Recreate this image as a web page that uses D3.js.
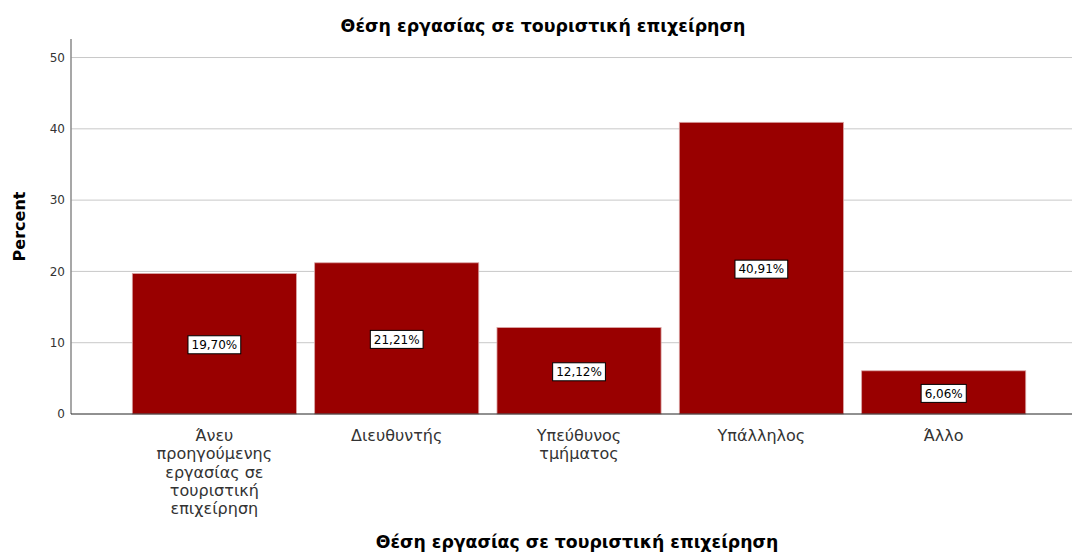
<!DOCTYPE html>
<html>
<head>
<meta charset="utf-8">
<script src="https://cdn.jsdelivr.net/npm/d3@7"></script>
<style>
  body { margin: 0; background: #fff; }
  svg { display: block; font-family: "DejaVu Sans", Verdana, sans-serif; }
</style>
</head>
<body>
<div id="chart"></div>
<script>
// data
const categories = [
    'Άνευ προηγούμενης εργασίας σε τουριστική επιχείρηση',
    'Διευθυντής',
    'Υπεύθυνος τμήματος',
    'Υπάλληλος',
    'Άλλο'
];
const percents = [19.70, 21.21, 12.12, 40.91, 6.06];
const yTicks = [0, 10, 20, 30, 40, 50];
const title = 'Θέση εργασίας σε τουριστική επιχείρηση';

const width = 1073, height = 552;
const margin = { left: 71, right: 1, top: 39, bottom: 138 };
const x0 = margin.left, x1 = width - margin.right;
const yBottom = height - margin.bottom; // 414

const svg = d3.select('#chart').append('svg')
    .attr('width', width)
    .attr('height', height);

// scales
const scaleX = d3.scaleBand(categories, [x0, x1])
    .paddingInner(0.1)
    .paddingOuter(0.295)
    .align(0.57);
const scaleY = d3.scaleLinear([0, 52.6], [yBottom, margin.top]);

// gridlines
svg.append('g')
    .selectAll('line')
    .data(yTicks.filter(d => d > 0))
    .join('line')
    .attr('x1', x0).attr('x2', x1)
    .attr('y1', d => scaleY(d)).attr('y2', d => scaleY(d))
    .attr('stroke', '#c8c8c8')
    .attr('stroke-width', 1);

// y axis
const axisY = svg.append('g')
    .attr('transform', `translate(${x0},0)`)
    .call(d3.axisLeft(scaleY).tickValues(yTicks).tickSize(0).tickPadding(6));
axisY.select('.domain').remove();
axisY.selectAll('text')
    .attr('font-size', 12)
    .attr('fill', '#333')
    .attr('font-family', '"DejaVu Sans", Verdana, sans-serif');
svg.append('line')
    .attr('x1', x0).attr('x2', x0)
    .attr('y1', margin.top).attr('y2', yBottom)
    .attr('stroke', '#8a8a8a')
    .attr('stroke-width', 1.5);

// bars
svg.append('g')
    .selectAll('rect')
    .data(categories)
    .join('rect')
    .attr('x', d => scaleX(d))
    .attr('width', scaleX.bandwidth())
    .attr('y', (d, i) => scaleY(percents[i]))
    .attr('height', (d, i) => yBottom - scaleY(percents[i]))
    .attr('fill', '#990000')
    .attr('stroke', '#d9a3a3')
    .attr('stroke-width', 0.8);

// x axis line
svg.append('line')
    .attr('x1', x0).attr('x2', x1)
    .attr('y1', yBottom).attr('y2', yBottom)
    .attr('stroke', '#222')
    .attr('stroke-width', 1);

// value labels
const labels = svg.append('g')
    .selectAll('g')
    .data(categories)
    .join('g')
    .attr('transform', (d, i) =>
        `translate(${scaleX(d) + scaleX.bandwidth() / 2}, ${scaleY(percents[i] / 2) + 1})`);
labels.append('text')
    .attr('text-anchor', 'middle')
    .attr('dy', '0.36em')
    .attr('font-size', 12)
    .attr('fill', '#000')
    .text((d, i) => percents[i].toFixed(2).replace('.', ',') + '%');
labels.each(function() {
    const g = d3.select(this);
    const bb = g.select('text').node().getBBox();
    g.insert('rect', 'text')
        .attr('x', bb.x - 3.5).attr('y', -9)
        .attr('width', bb.width + 7).attr('height', 18)
        .attr('fill', '#fff')
        .attr('stroke', '#000')
        .attr('stroke-width', 1);
});

// category labels with word wrap
const catFont = 16, lineH = 18.3, wrapW = 130;
const cats = svg.append('g')
    .selectAll('text')
    .data(categories)
    .join('text')
    .attr('text-anchor', 'middle')
    .attr('font-size', catFont)
    .attr('fill', '#333')
    .attr('x', d => scaleX(d) + scaleX.bandwidth() / 2)
    .attr('y', yBottom + 27);
cats.each(function(d) {
    const t = d3.select(this);
    const cx = t.attr('x');
    const words = d.split(' ');
    let line = [];
    let tspan = t.append('tspan').attr('x', cx).attr('dy', 0);
    for (const w of words) {
        line.push(w);
        tspan.text(line.join(' '));
        if (tspan.node().getComputedTextLength() > wrapW && line.length > 1) {
            line.pop();
            tspan.text(line.join(' '));
            line = [w];
            tspan = t.append('tspan').attr('x', cx).attr('dy', lineH).text(w);
        }
    }
});

// titles, fitted to the width they take in the original
function boldTitle(x, y, targetW) {
    const t = svg.append('text')
        .attr('x', x).attr('y', y)
        .attr('text-anchor', 'middle')
        .attr('font-size', 15)
        .attr('font-weight', 'bold')
        .attr('fill', '#000')
        .text(title);
    const w = t.node().getComputedTextLength();
    t.attr('font-size', 15 * targetW / w);
    return t;
}
boldTitle(543, 32, 405);
boldTitle(577, 548, 403);

svg.append('text')
    .attr('transform', `translate(25, ${(margin.top + yBottom) / 2}) rotate(-90)`)
    .attr('text-anchor', 'middle')
    .attr('font-size', 16)
    .attr('font-weight', 'bold')
    .attr('fill', '#000')
    .text('Percent');
</script>
</body>
</html>
